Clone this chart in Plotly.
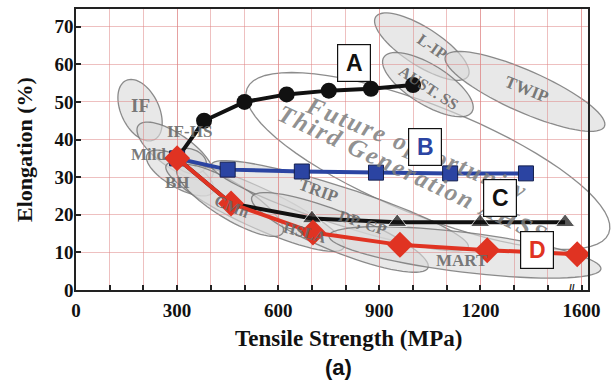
import numpy as np
import plotly.graph_objects as go

# ---- data (tensile strength on the broken axis scale, elongation %) ----
a_x = [300, 380, 500, 625, 750, 875, 1000]
a_y = [35, 45, 50, 52, 53, 53.5, 54.5]

b_x = [300, 450, 670, 890, 1110, 1335]
b_y = [35, 32, 31.5, 31.2, 31, 31]

c_x = [300, 460, 700, 953, 1199, 1451]
c_y = [35, 23, 19, 18, 18, 18]

d_x = [300, 460, 703, 961, 1220, 1487]
d_y = [35, 23, 15.3, 12, 10.6, 9.5]

x_tickvals = [0, 300, 600, 900, 1200, 1500]
x_ticktext = ["0", "300", "600", "900", "1200", "1600"]
y_tickvals = [0, 10, 20, 30, 40, 50, 60, 70]
y_ticktext = ["0", "10", "20", "30", "40", "50", "60", "70"]

# ---- geometry ----
W, H = 613, 391
ML, MR, MT, MB = 76, 25, 7, 101
XMAX, YMAX = 1519, 74.7
PW, PH = W - ML - MR, H - MT - MB
PPX = PW / XMAX   # pixels per MPa
PPY = PH / YMAX   # pixels per % elongation

SERIF = "Liberation Serif"
SANS = "Liberation Sans"

# steel-family regions: centre (MPa, %), semi-axes (px), tilt (deg, clockwise)
regions = [
    ("big", 1044, 34.3, 195, 55, 22),
    ("IF", 190, 47.8, 33, 19, 65),
    ("IFHS", 294, 36.9, 45, 17, 35),
    ("BH", 309, 31.1, 38, 15, 30),
    ("Mild", 338, 34.3, 17, 12, 20),
    ("HSLA", 531, 22.2, 98, 20, 25),
    ("CMn", 457, 23.8, 62, 18, 32),
    ("TRIP", 783, 22.4, 135, 19, 18),
    ("DPCP", 783, 15.3, 95, 20, 22),
    ("MART", 1154, 10.0, 137, 20, 7),
    ("LIP", 1026, 64.7, 55, 19, 33),
    ("AUST", 1044, 54.6, 52, 20, 32),
    ("TWIP", 1332, 52.8, 87, 21, 24),
]


def ellipse_path(cx, cy, a, b, ang):
    t = np.linspace(0, 2 * np.pi, 73)
    th = np.radians(ang)
    dx = a * np.cos(t) * np.cos(th) - b * np.sin(t) * np.sin(th)
    dy = a * np.cos(t) * np.sin(th) + b * np.sin(t) * np.cos(th)
    xs = (cx + dx / PPX) / XMAX
    ys = (cy - dy / PPY) / YMAX
    pts = [f"{x:.5f},{y:.5f}" for x, y in zip(xs, ys)]
    return "M" + " L".join(pts) + " Z"


shapes = []
for name, cx, cy, a, b, ang in regions:
    fill = "rgba(0,0,0,0)" if name == "big" else "rgba(218,218,218,0.62)"
    shapes.append(dict(
        type="path", xref="paper", yref="paper", layer="below",
        path=ellipse_path(cx, cy, a, b, ang),
        fillcolor=fill, line=dict(color="rgba(120,120,120,0.85)", width=1.3),
    ))

fig = go.Figure()

fig.add_trace(go.Scatter(
    x=a_x, y=a_y, mode="lines+markers",
    line=dict(color="#111111", width=4),
    marker=dict(symbol="circle", size=16, color="#111111"),
))
fig.add_trace(go.Scatter(
    x=b_x, y=b_y, mode="lines+markers",
    line=dict(color="#2b44a2", width=4),
    marker=dict(symbol="square", size=15, color="#2b44a2",
                line=dict(color="#15204f", width=1)),
))
fig.add_trace(go.Scatter(
    x=c_x, y=c_y, mode="lines+markers",
    line=dict(color="#111111", width=4),
    marker=dict(symbol="triangle-up", size=[0, 0, 17, 17, 17, 17], color="#111111"),
))
fig.add_trace(go.Scatter(
    x=d_x, y=d_y, mode="lines+markers",
    line=dict(color="#e03322", width=4),
    marker=dict(symbol="diamond", size=20, color="#e03322"),
))

annotations = []

# region names
region_labels = [
    ("IF", 190, 49.1, 0, 19),
    ("IF-HS", 338, 42.2, 0, 17),
    ("Mild", 214, 35.9, 0, 17),
    ("BH", 300, 28.5, 0, 17),
    ("CMn", 463, 22.2, 22, 16),
    ("HSLA", 680, 15.3, 15, 16),
    ("TRIP", 718, 26.4, 20, 17),
    ("DP, CP", 849, 17.9, 18, 16),
    ("MART", 1145, 7.9, 0, 17),
    ("L-IP", 1056, 64.6, 35, 16),
    ("AUST. SS", 1045, 53.8, 33, 16),
    ("TWIP", 1338, 53.3, 22, 17),
]
for txt, x, y, ang, sz in region_labels:
    annotations.append(dict(
        x=x, y=y, xref="x", yref="y", text=f"<b>{txt}</b>", showarrow=False,
        textangle=ang, font=dict(family=SERIF, size=sz, color="rgba(105,105,105,0.9)"),
    ))


def spaced(s):
    return "\u200a".join(s)


annotations.append(dict(
    x=1009, y=38.0, xref="x", yref="y", text=f"<b><i>{spaced('Future opportunity')}</i></b>",
    showarrow=False, textangle=22,
    font=dict(family=SERIF, size=25, color="rgba(125,125,125,0.85)"),
))
annotations.append(dict(
    x=997, y=31.1, xref="x", yref="y", text=f"<b><i>{spaced('Third Generation AHSS')}</i></b>",
    showarrow=False, textangle=25,
    font=dict(family=SERIF, size=25, color="rgba(125,125,125,0.85)"),
))

# series tags
tags = [("A", 824, 60.4, "#111111"), ("B", 1035, 38.0, "#2b44a2"),
        ("C", 1257, 24.5, "#111111"), ("D", 1367, 10.6, "#e03322")]
for txt, x, y, col in tags:
    annotations.append(dict(
        x=x, y=y, xref="x", yref="y", text=f"<b>{txt}</b>", showarrow=False,
        font=dict(family=SANS, size=23, color=col),
        bgcolor="white", bordercolor="#111111", borderwidth=1.2,
        width=30, height=34, borderpad=1,
    ))

# axis break mark
annotations.append(dict(
    x=1472, y=0, xref="x", yref="y", text="<b>//</b>", showarrow=False,
    font=dict(family=SANS, size=10, color="#222222"), yshift=2,
))

# x-axis title and panel label
annotations.append(dict(
    x=(348 - ML) / PW, y=-(339 - (MT + PH)) / PH, xref="x domain", yref="y domain",
    xanchor="center", yanchor="middle",
    text="<b>Tensile Strength (MPa)</b>", showarrow=False,
    font=dict(family=SERIF, size=23, color="#111111"),
))
annotations.append(dict(
    x=(338 - ML) / PW, y=-(368 - (MT + PH)) / PH, xref="x domain", yref="y domain",
    xanchor="center", yanchor="middle",
    text="<b>(a)</b>", showarrow=False,
    font=dict(family=SANS, size=22, color="#111111"),
))

fig.update_layout(
    width=W, height=H,
    margin=dict(l=ML, r=MR, t=MT, b=MB),
    paper_bgcolor="white", plot_bgcolor="rgba(0,0,0,0)",
    showlegend=False,
    shapes=shapes, annotations=annotations,
)

GRID = "rgba(222,130,130,0.5)"
fig.update_xaxes(
    range=[0, XMAX], tickvals=x_tickvals, ticktext=[f"<b>{t}</b>" for t in x_ticktext],
    showline=True, linecolor="#222222", linewidth=1.6, mirror=True,
    ticks="inside", ticklen=5, tickcolor="#222222", tickwidth=1.5,
    showgrid=True, gridcolor=GRID, gridwidth=1,
    minor=dict(dtick=100, tick0=0, ticks="inside", ticklen=5, tickcolor="#222222",
               showgrid=True, gridcolor=GRID, gridwidth=1),
    tickfont=dict(family=SERIF, size=19, color="#111111"),
    ticklabelstandoff=2,
    zeroline=False,
)
fig.update_yaxes(
    range=[0, YMAX], tickvals=y_tickvals, ticktext=[f"<b>{t}</b>" for t in y_ticktext],
    showline=True, linecolor="#222222", linewidth=1.6, mirror=True,
    ticks="inside", ticklen=5, tickcolor="#222222", tickwidth=1.5,
    showgrid=True, gridcolor=GRID, gridwidth=1,
    tickfont=dict(family=SERIF, size=19, color="#111111"),
    ticklabelstandoff=-3,
    title=dict(text="<b>Elongation (%)</b>", standoff=16,
               font=dict(family=SERIF, size=22, color="#111111")),
    zeroline=False,
)

fig.write_html("out.html")
